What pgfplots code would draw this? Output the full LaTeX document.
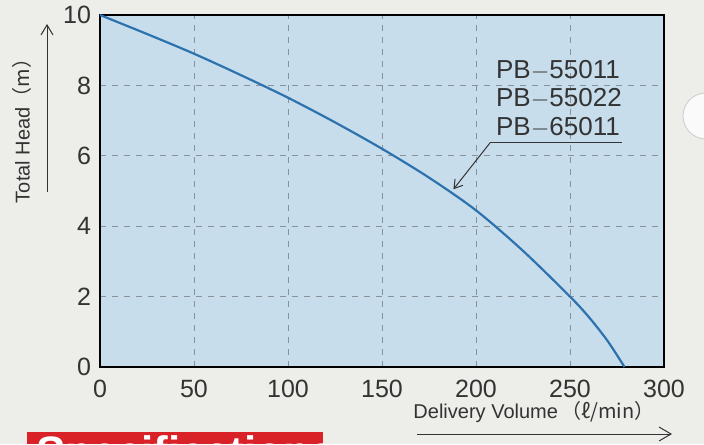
\documentclass[border=0pt]{standalone}
\usepackage{pgfplots}
\pgfplotsset{compat=1.18}
\usepackage{fontspec}
\setmainfont{Liberation Sans}
\newfontfamily\cjk{Noto Sans CJK JP}
\usetikzlibrary{arrows.meta}
\definecolor{bgc}{HTML}{EDEDEA}
\definecolor{plotbg}{HTML}{C8DDEC}
\definecolor{curve}{HTML}{2C72AE}
\definecolor{gridc}{HTML}{8A9299}
\definecolor{txt}{HTML}{333333}
\definecolor{redbox}{HTML}{D92128}
\begin{document}
\begin{tikzpicture}[x=1pt,y=1pt]
\useasboundingbox (0,0) rectangle (352,222);
\fill[bgc] (0,0) rectangle (352,222);
\begin{scope}
\clip (0,0) rectangle (352,222);
\fill[white!96!gray] (353,164) circle (11.5);
\draw[gray!40] (353,164) circle (11.5);
\end{scope}
\begin{axis}[
  at={(50pt,38.5pt)}, anchor=south west,
  scale only axis, width=282pt, height=176pt,
  xmin=0, xmax=300, ymin=0, ymax=10,
  xtick={0,50,...,300}, ytick={0,2,...,10},
  axis background/.style={fill=plotbg},
  axis line style={black, line width=0.8pt},
  grid=major,
  major grid style={gridc, dashed, line width=0.35pt},
  major tick length=0pt,
  tick label style={font=\fontsize{12.5}{14}\selectfont, text=txt},
  /pgf/number format/assume math mode=true,
  xticklabel style={yshift=-3pt},
  yticklabel style={xshift=-1pt},
  clip=false,
]
\addplot[curve, line width=1.1pt, smooth] coordinates {
(0,10) (25,9.46) (50,8.9) (75,8.29) (100,7.65) (125,6.95) (150,6.2) (175,5.38) (200,4.45) (225,3.3) (250,2.0) (260,1.42) (270,0.74) (279,0)};
\node[anchor=base west, inner sep=0pt, text=txt, font=\fontsize{13}{15}\selectfont] at (axis cs:210.5,8.21) {PB$-$55011};
\node[anchor=base west, inner sep=0pt, text=txt, font=\fontsize{13}{15}\selectfont] at (axis cs:210.5,7.40) {PB$-$55022};
\node[anchor=base west, inner sep=0pt, text=txt, font=\fontsize{13}{15}\selectfont] at (axis cs:210.5,6.59) {PB$-$65011};
\draw[txt, line width=0.5pt] (axis cs:277.5,6.37) -- (axis cs:207.5,6.37);
\draw[txt, line width=0.5pt, -{Straight Barb[length=4pt,width=5pt]}] (axis cs:207.5,6.37) -- (axis cs:188,5.05);
\end{axis}
% y label
\node[rotate=90, text=txt, font=\fontsize{10}{12}\selectfont] at (11,159) {Total Head{\cjk （m）}};
\draw[txt, line width=0.5pt, -{Straight Barb[length=5pt,width=6pt]}] (23.5,126) -- (23.5,210);
% x label
\node[text=txt, font=\fontsize{10}{12}\selectfont] at (267,16) {Delivery Volume\,{\cjk （ℓ/min）}};
\draw[txt, line width=0.5pt, -{Straight Barb[length=6pt,width=7pt]}] (208.5,5) -- (336,5);
% red box
\begin{scope}
\clip (13.5,0) rectangle (161.5,6);
\fill[redbox] (13.5,0) rectangle (161.5,6);
\node[anchor=north west, inner sep=0pt, text=white, font=\fontsize{22}{24}\bfseries] at (18,4.5) {Specifications};
\end{scope}
\end{tikzpicture}
\end{document}
